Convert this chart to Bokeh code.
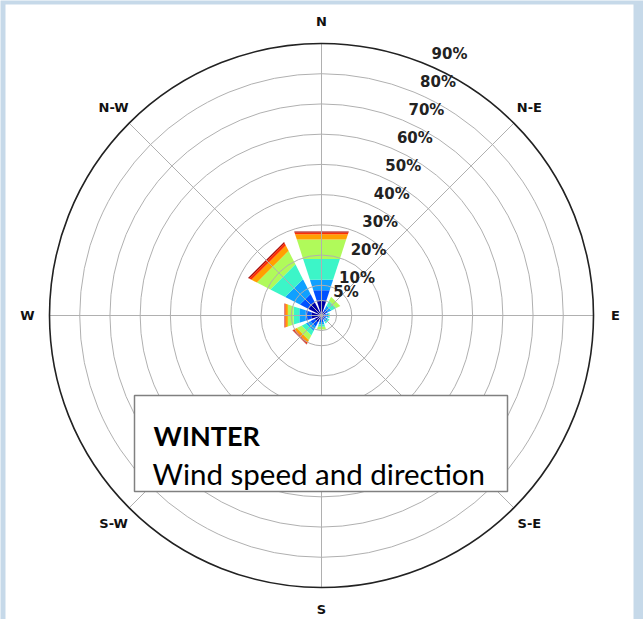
import math

from bokeh.core.properties import value
from bokeh.embed import file_html
from bokeh.models import ColumnDataSource
from bokeh.plotting import figure
from bokeh.resources import INLINE

# ---- data -------------------------------------------------------------
directions = ["N", "N-E", "E", "S-E", "S", "S-W", "W", "N-W"]
dir_angles = [0, 45, 90, 135, 180, 225, 270, 315]          # compass degrees

# wind-speed classes (frequency in % per direction and class)
speed_colors = ["#0000a8", "#0050ff", "#10a0ff", "#3cf5c8",
                "#b0fa5a", "#ffa000", "#ff3000", "#a00000"]
freq_n  = [5.2, 3.6, 3.6, 7.3, 6.7, 1.9, 0.6, 0.3]
freq_ne = [1.5, 1.0, 1.2, 1.8, 1.5, 0.0, 0.0, 0.0]
freq_e  = [1.0, 0.7, 0.6, 0.5, 0.0, 0.0, 0.0, 0.0]
freq_se = [1.0, 0.7, 0.7, 0.6, 0.0, 0.0, 0.0, 0.0]
freq_s  = [1.5, 0.8, 0.8, 0.8, 1.0, 0.0, 0.0, 0.0]
freq_sw = [2.6, 1.6, 1.6, 1.6, 1.8, 0.9, 0.5, 0.2]
freq_w  = [3.5, 2.0, 2.2, 2.0, 2.0, 0.8, 0.3, 0.1]
freq_nw = [5.0, 3.0, 5.5, 5.5, 5.0, 2.0, 0.9, 0.4]

ring_values = [5, 10, 20, 30, 40, 50, 60, 70, 80]
ring_labels = ["5%", "10%", "20%", "30%", "40%", "50%", "60%", "70%", "80%", "90%"]
r_max = 90

title_text = "WINTER"
subtitle_text = "Wind speed and direction"

# ---- geometry ----------------------------------------------------------
W, H = 643, 619
cx, cy = 321, 315            # pole position on the page (px)
k = 272 / r_max              # px per percent
bar_width = 36               # degrees per bar


def px(xp, yp):
    """page pixel -> data coordinates (percent units, pole at origin)"""
    return (xp - cx) / k, (cy - yp) / k


def polar(r, deg):
    a = math.radians(deg)
    return r * math.sin(a), r * math.cos(a)


p = figure(width=W, height=H, x_range=(-cx / k, (W - cx) / k),
           y_range=(-(H - cy) / k, cy / k), min_border=0,
           toolbar_location=None, output_backend="svg",
           x_axis_type=None, y_axis_type=None)
p.grid.visible = False
p.outline_line_color = None
p.background_fill_color = "#c6d9e9"
p.border_fill_color = "#c6d9e9"

# white sheet behind the rose
x0, y0 = px(5, 4)
x1, y1 = px(633, 640)
p.quad(left=x0, right=x1, top=y0, bottom=y1, fill_color="white", line_color=None)

# ---- stacked bars -------------------------------------------------------
all_freqs = [freq_n, freq_ne, freq_e, freq_se, freq_s, freq_sw, freq_w, freq_nw]
xs, ys, cols = [], [], []
for ang, freqs in zip(dir_angles, all_freqs):
    r0 = 0.0
    for f, c in zip(freqs, speed_colors):
        if f <= 0:
            continue
        r1 = r0 + f
        a0, a1 = ang - bar_width / 2, ang + bar_width / 2
        pts = [polar(r0, a0), polar(r0, a1), polar(r1, a1), polar(r1, a0)]
        xs.append([q[0] for q in pts])
        ys.append([q[1] for q in pts])
        cols.append(c)
        r0 = r1
p.patches(xs="xs", ys="ys", fill_color="cols", line_color=None,
          source=ColumnDataSource(dict(xs=xs, ys=ys, cols=cols)))

# ---- polar grid ---------------------------------------------------------
p.circle(x=[0] * len(ring_values), y=[0] * len(ring_values), radius=ring_values,
         fill_color=None, line_color="#b0b0b0", line_width=1)
ends = [polar(r_max, a) for a in dir_angles]
p.segment(x0=[0] * 8, y0=[0] * 8, x1=[e[0] for e in ends], y1=[e[1] for e in ends],
          line_color="#b0b0b0", line_width=1)
p.circle(x=[0], y=[0], radius=[r_max], fill_color=None,
         line_color="#222222", line_width=1.6)

# radial tick labels along 22.5 degrees
lab_r = ring_values + [r_max]
lab_pts = [polar(r, 22.5) for r in lab_r]
p.text(x=[q[0] for q in lab_pts], y=[q[1] for q in lab_pts], text=ring_labels,
       text_font=value("DejaVu Sans"), text_font_style="bold",
       text_font_size="15px", text_color="#222222",
       text_align="left", text_baseline="bottom", x_offset=6, y_offset=-1)

# compass labels
dir_pts = [polar(294 / k, a) for a in dir_angles]
p.text(x=[q[0] for q in dir_pts], y=[q[1] for q in dir_pts], text=directions,
       text_font=value("DejaVu Sans"), text_font_style="bold",
       text_font_size="13px", text_color="#111111",
       text_align="center", text_baseline="middle")

# ---- caption box --------------------------------------------------------
bx0, by0 = px(134, 395)
bx1, by1 = px(507, 491)
p.quad(left=bx0, right=bx1, top=by0, bottom=by1, fill_color="white",
       line_color="#808080", line_width=1.5)
tx, ty = px(153, 435)
p.text(x=[tx], y=[ty], text=[title_text], text_font=value("Lato"),
       text_font_style="bold", text_font_size="27px", text_color="black",
       text_baseline="alphabetic")
tx2, ty2 = px(152, 473)
p.text(x=[tx2], y=[ty2], text=[subtitle_text], text_font=value("Lato"),
       text_font_size="29.5px", text_color="black", text_baseline="alphabetic")

open("out.html", "w").write(file_html(p, INLINE))
